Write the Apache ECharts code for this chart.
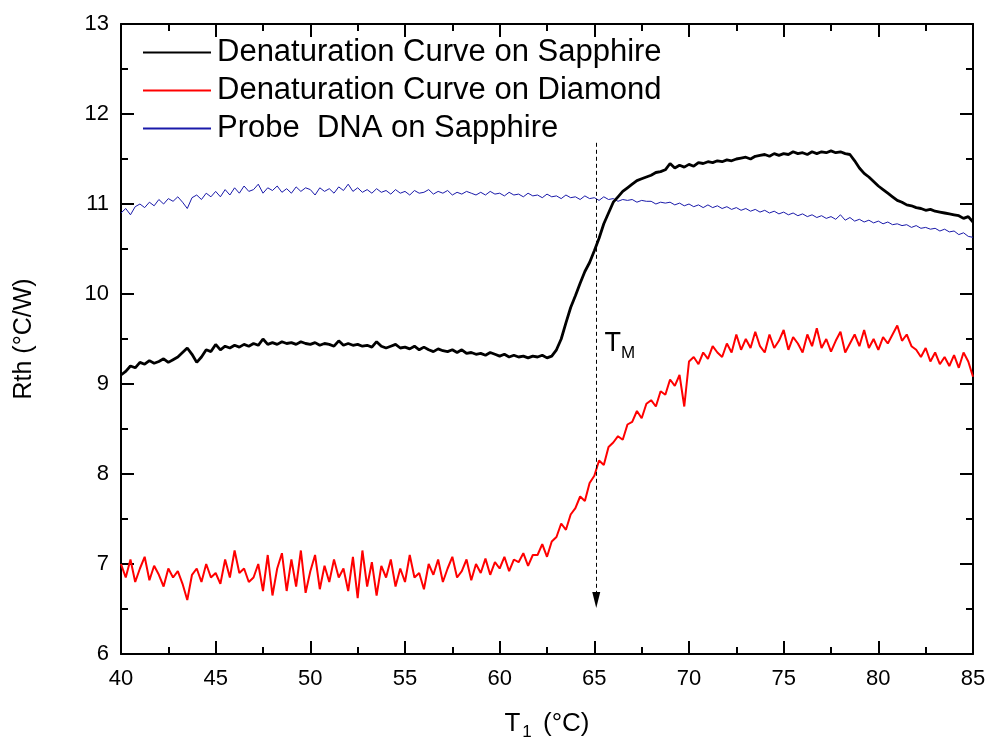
<!DOCTYPE html>
<html>
<head>
<meta charset="utf-8">
<script src="https://cdn.jsdelivr.net/npm/echarts@6/dist/echarts.min.js"></script>
<style>html,body{margin:0;padding:0;background:#fff}#c{width:989px;height:747px}</style>
</head>
<body>
<div id="c"></div>
<script>
// Sampling grid: temperatures from 40 °C in 0.25 °C steps
const T_START = 40;
const T_STEP = 0.25;

const sapphire = [
9.10,9.14,9.20,9.18, 9.24,9.22,9.26,9.23, 9.25,9.28,9.24,9.27, 9.30,9.35,9.40,9.33, 9.24,9.30,9.38,9.36,
9.44,9.38,9.42,9.40, 9.43,9.41,9.44,9.42, 9.45,9.43,9.50,9.44, 9.46,9.44,9.47,9.45, 9.46,9.44,9.47,9.45,
9.44,9.46,9.43,9.45, 9.44,9.42,9.48,9.43, 9.45,9.43,9.44,9.42, 9.43,9.41,9.47,9.42, 9.40,9.42,9.44,9.40,
9.41,9.39,9.42,9.38, 9.41,9.38,9.36,9.39, 9.37,9.36,9.38,9.35, 9.38,9.34,9.35,9.33, 9.34,9.32,9.35,9.33,
9.31,9.33,9.30,9.32, 9.30,9.31,9.29,9.31, 9.30,9.32,9.29,9.31, 9.38,9.50,9.68,9.85, 9.98,10.12,10.25,10.35,
10.48,10.62,10.78,10.90, 11.02,11.08,11.14,11.18, 11.22,11.26,11.28,11.30, 11.32,11.35,11.36,11.38, 11.45,11.40,11.43,11.41,
11.44,11.42,11.46,11.45, 11.47,11.46,11.48,11.47, 11.49,11.48,11.50,11.51, 11.52,11.50,11.53,11.54, 11.55,11.53,11.56,11.54,
11.56,11.55,11.58,11.56, 11.57,11.55,11.58,11.56, 11.58,11.57,11.59,11.57, 11.58,11.56,11.55,11.48, 11.40,11.34,11.30,11.25,
11.20,11.16,11.12,11.08, 11.04,11.02,10.99,10.98, 10.96,10.95,10.93,10.94, 10.92,10.91,10.90,10.89, 10.88,10.87,10.84,10.86,
10.80
];

const diamond = [
7.00,6.85,7.05,6.80, 6.95,7.08,6.82,6.98, 6.88,6.75,6.95,6.85, 6.92,6.78,6.60,6.88, 6.95,6.80,7.00,6.85,
6.90,6.78,7.05,6.85, 7.15,6.90,6.95,6.80, 6.85,7.00,6.70,7.10, 6.65,6.95,7.12,6.70, 7.05,6.75,7.15,6.68,
6.92,7.10,6.72,6.98, 6.80,7.05,6.85,6.95, 6.70,7.08,6.62,7.15, 6.75,7.02,6.65,6.98, 6.85,7.05,6.75,6.95,
6.80,7.10,6.85,6.90, 6.72,7.00,6.88,7.05, 6.80,6.95,7.08,6.85, 6.92,7.05,6.82,7.00, 6.90,7.06,6.88,7.02,
6.95,7.08,6.92,7.05, 7.02,7.12,6.98,7.10, 7.10,7.22,7.08,7.25, 7.30,7.45,7.38,7.55, 7.62,7.75,7.70,7.90,
7.98,8.15,8.10,8.30, 8.35,8.42,8.38,8.55, 8.58,8.70,8.62,8.78, 8.82,8.75,8.92,8.88, 9.05,8.98,9.10,8.75,
9.25,9.30,9.22,9.35, 9.28,9.42,9.35,9.30, 9.45,9.35,9.55,9.38, 9.50,9.40,9.58,9.42, 9.35,9.55,9.40,9.48,
9.60,9.38,9.52,9.45, 9.35,9.55,9.42,9.62, 9.40,9.50,9.36,9.48, 9.58,9.35,9.45,9.55, 9.42,9.60,9.40,9.50,
9.38,9.52,9.45,9.55, 9.65,9.48,9.55,9.42, 9.38,9.30,9.40,9.25, 9.35,9.22,9.30,9.20, 9.32,9.18,9.35,9.25,
9.08
];

const probe = [
10.90,10.95,10.88,10.97, 11.00,10.96,11.02,10.98, 11.05,11.00,11.06,11.03, 11.08,11.02,10.95,11.07, 11.10,11.05,11.12,11.08,
11.14,11.08,11.16,11.10, 11.18,11.12,11.20,11.14, 11.16,11.22,11.12,11.18, 11.15,11.20,11.13,11.17, 11.12,11.19,11.14,11.18,
11.16,11.10,11.18,11.14, 11.17,11.12,11.19,11.15, 11.22,11.14,11.18,11.13, 11.16,11.12,11.17,11.13, 11.15,11.11,11.16,11.12,
11.14,11.10,11.15,11.12, 11.13,11.16,11.11,11.14, 11.12,11.15,11.10,11.13, 11.11,11.14,11.12,11.10, 11.13,11.10,11.14,11.11,
11.12,11.09,11.13,11.10, 11.11,11.08,11.12,11.09, 11.10,11.07,11.11,11.08, 11.09,11.06,11.10,11.07, 11.08,11.05,11.09,11.06,
11.07,11.04,11.08,11.05, 11.06,11.03,11.05,11.04, 11.05,11.02,11.04,11.03, 11.03,11.00,11.02,11.01, 11.02,10.99,11.01,10.98,
11.00,10.97,10.99,10.96, 10.99,10.96,10.98,10.95, 10.97,10.94,10.96,10.93, 10.95,10.92,10.94,10.91, 10.93,10.90,10.92,10.89,
10.91,10.88,10.90,10.87, 10.89,10.86,10.88,10.85, 10.87,10.84,10.86,10.83, 10.88,10.82,10.85,10.81, 10.83,10.80,10.82,10.79,
10.81,10.78,10.80,10.77, 10.78,10.76,10.77,10.74, 10.76,10.73,10.74,10.72, 10.73,10.70,10.72,10.69, 10.70,10.66,10.68,10.64,
10.63
];

const seriesNames = ['Denaturation Curve on Sapphire', 'Denaturation Curve on Diamond', 'Probe  DNA on Sapphire'];
const TM = 65.1;             // melting temperature marker
const TM_TOP = 11.68, TM_BOTTOM = 6.6;
const TM_LABEL_AT = [66.35, 9.45];
const X_MIN = 40, X_MAX = 85, X_INT = 5;
const Y_MIN = 6, Y_MAX = 13, Y_INT = 1;

function pairs(arr) { return arr.map((v, i) => [T_START + i * T_STEP, v]); }

const FONT = 'Liberation Sans, Arial, sans-serif';
const tickCommon = {
  axisLine: { show: true, lineStyle: { color: '#000', width: 2 } },
  axisTick: { show: true, inside: true, length: 13, lineStyle: { color: '#000', width: 2 } },
  minorTick: { show: true, splitNumber: 2, length: 7, lineStyle: { color: '#000', width: 2 } },
  splitLine: { show: false }
};

const chart = echarts.init(document.getElementById('c'));
chart.setOption({
  animation: false,
  backgroundColor: '#fff',
  grid: { left: 121, right: 16, top: 24, bottom: 93 },
  legend: {
    orient: 'vertical', left: 137, top: 32, itemGap: 7,
    itemWidth: 68, itemHeight: 14,
    itemStyle: { opacity: 0 },
    textStyle: { fontFamily: FONT, fontSize: 31, color: '#000', padding: [0, 0, 0, 1] },
    data: seriesNames
  },
  xAxis: [
    Object.assign({
      type: 'value', min: X_MIN, max: X_MAX, interval: X_INT, position: 'bottom',
      axisLabel: { fontFamily: FONT, fontSize: 22, color: '#000', margin: 14 },
      name: 'T{s|1} (°C)', nameLocation: 'middle', nameGap: 52,
      nameTextStyle: { fontFamily: FONT, fontSize: 26, color: '#000',
        rich: { s: { fontFamily: FONT, fontSize: 17, color: '#000', padding: [18, 4, 0, 2] } } }
    }, tickCommon),
    Object.assign({
      type: 'value', min: X_MIN, max: X_MAX, interval: X_INT, position: 'top',
      axisLabel: { show: false }
    }, tickCommon)
  ],
  yAxis: [
    Object.assign({
      type: 'value', min: Y_MIN, max: Y_MAX, interval: Y_INT, position: 'left',
      axisLabel: { fontFamily: FONT, fontSize: 22, color: '#000', margin: 12 },
      name: 'Rth (°C/W)', nameLocation: 'middle', nameGap: 84,
      nameTextStyle: { fontFamily: FONT, fontSize: 25, color: '#000' }
    }, tickCommon),
    Object.assign({
      type: 'value', min: Y_MIN, max: Y_MAX, interval: Y_INT, position: 'right',
      axisLabel: { show: false }
    }, tickCommon)
  ],
  series: [
    {
      name: seriesNames[0], type: 'line', data: pairs(sapphire), symbol: 'none',
      lineStyle: { color: '#000', width: 2.8 }, itemStyle: { color: '#000' }, z: 3,
      markLine: {
        silent: true, symbol: ['none', 'path://M4,0 L8,16 L0,16 Z'], symbolSize: 16,
        symbolKeepAspect: true,
        lineStyle: { color: '#000', width: 1, type: [4, 3] },
        itemStyle: { color: '#000' },
        label: { show: false },
        data: [[{ coord: [TM, TM_TOP] }, { coord: [TM, TM_BOTTOM] }]]
      },
      markPoint: {
        silent: true, symbol: 'circle', symbolSize: 0,
        label: {
          show: true, position: 'inside', formatter: '{t|T}{s|M}',
          rich: {
            t: { fontFamily: FONT, fontSize: 27, color: '#000' },
            s: { fontFamily: FONT, fontSize: 17, color: '#000', padding: [20, 0, 0, 0] }
          }
        },
        data: [{ coord: TM_LABEL_AT }]
      }
    },
    {
      name: seriesNames[1], type: 'line', data: pairs(diamond), symbol: 'none',
      lineStyle: { color: '#ff0000', width: 2 }, itemStyle: { color: '#ff0000' }, z: 2
    },
    {
      name: seriesNames[2], type: 'line', data: pairs(probe), symbol: 'none',
      lineStyle: { color: '#1a1aaa', width: 1 }, itemStyle: { color: '#1a1aaa' }, z: 2
    }
  ]
});
</script>
</body>
</html>
